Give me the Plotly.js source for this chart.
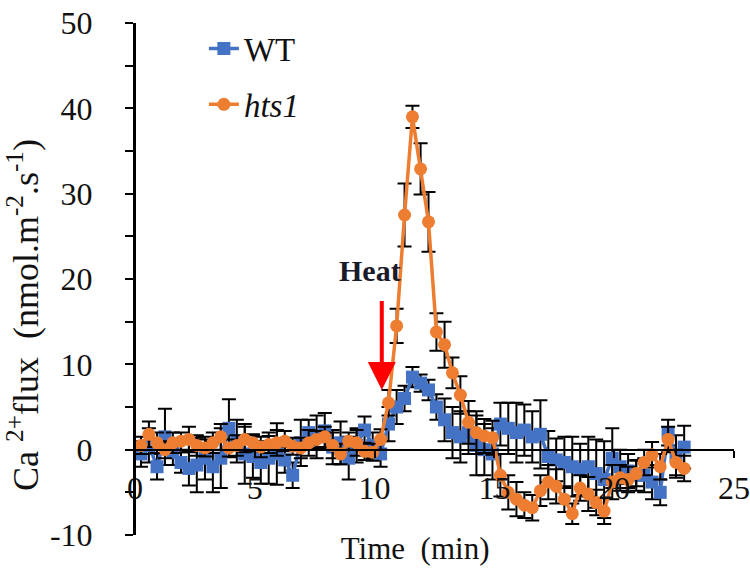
<!DOCTYPE html>
<html><head><meta charset="utf-8">
<script src="https://cdn.plot.ly/plotly-3.0.1.min.js"></script>
<style>html,body{margin:0;padding:0;background:#fff}#chart{width:750px;height:574px}</style>
</head><body><div id="chart"></div>
<script>
const timeMin = [0.25,0.58,0.92,1.25,1.58,1.92,2.25,2.58,2.92,3.25,3.58,3.92,4.25,4.58,4.92,5.25,5.58,5.92,6.25,6.58,6.92,7.25,7.58,7.92,8.25,8.58,8.92,9.25,9.58,9.92,10.25,10.58,10.92,11.25,11.58,11.92,12.25,12.58,12.92,13.25,13.58,13.92,14.25,14.58,14.92,15.25,15.58,15.92,16.25,16.58,16.92,17.25,17.58,17.92,18.25,18.58,18.92,19.25,19.58,19.92,20.25,20.58,20.92,21.25,21.58,21.92,22.25,22.58,22.92];
const wtFlux = [-0.5,0.5,-2.0,1.5,-0.3,-1.5,-2.2,-1.8,-1.0,-2.0,-1.0,2.5,1.0,-0.5,-0.8,-1.5,-1.0,-0.5,-1.2,-3.0,0.8,2.0,1.5,2.2,0.3,0.8,-1.0,0.5,2.3,0.5,-0.5,3.0,5.0,6.0,8.5,7.8,7.0,5.0,3.5,2.0,1.5,2.0,0.5,0.0,-0.5,3.0,2.5,2.0,2.3,1.5,1.8,-0.8,-1.2,-1.5,-2.0,-2.3,-2.0,-2.8,-3.5,-1.0,-2.0,-2.5,-3.0,-3.0,-3.8,-5.0,2.0,-0.8,0.3];
const wtErr = [1.5,2.0,1.5,3.3,1.5,1.2,2.0,3.2,2.5,3.0,3.5,3.4,2.5,3.5,2.5,2.5,3.0,3.6,1.5,1.5,2.7,1.5,2.5,2.1,2.0,2.5,2.5,2.0,1.6,1.5,1.5,2.0,2.0,1.5,1.2,1.0,1.2,1.5,2.5,3.0,3.0,2.5,3.5,3.0,3.0,2.5,3.0,3.5,3.0,3.0,4.0,3.0,2.5,3.0,3.5,3.0,3.5,4.0,4.5,3.5,2.0,2.0,1.8,2.0,2.0,1.5,1.5,2.5,2.5];
const hts1Flux = [0.5,1.8,0.8,0.0,0.8,1.0,1.2,0.5,0.2,0.8,1.5,0.2,0.5,1.2,0.8,0.3,0.6,0.8,1.0,0.4,0.2,0.8,1.2,1.5,0.5,-0.5,1.0,0.8,-0.2,-0.3,1.2,5.5,14.5,27.5,39.0,32.9,26.7,13.8,12.3,9.0,6.4,3.2,2.0,1.6,1.4,-3.0,-5.0,-5.8,-6.5,-6.8,-4.8,-3.8,-4.3,-5.8,-7.5,-4.5,-5.2,-6.2,-7.2,-3.8,-3.3,-3.5,-2.8,-1.5,-0.6,-2.0,1.2,-1.5,-2.2];
const hts1Err = [1.0,1.5,1.2,1.0,1.2,1.0,1.5,1.2,1.0,1.2,1.5,1.0,1.2,1.5,1.0,1.2,1.0,1.5,1.2,1.0,1.2,1.5,1.0,1.2,1.5,1.2,1.0,1.5,1.0,1.0,1.2,1.5,2.0,3.7,1.3,3.0,3.5,2.2,2.7,1.8,2.2,2.5,2.5,2.0,2.0,2.5,2.0,2.0,1.5,1.5,1.8,2.0,2.0,1.5,1.2,1.5,2.0,1.5,1.5,2.0,1.5,1.5,1.5,1.5,1.5,1.5,1.5,1.5,1.5];
const xTickVals = [0,5,10,15,20,25];
const xTickText = ['0','5','10','15','20','25'];
const yTickVals = [-10,0,10,20,30,40,50];
const yTickText = ['-10','0','10','20','30','40','50'];
const seriesNames = ['WT','<i>hts1</i>'];

const serif = 'Liberation Serif, Times New Roman, serif';
const ink = '#111111';
const nb = '\u00a0';
const zw = '\u200b';

const traces = [
  {
    x: timeMin, y: wtFlux, name: seriesNames[0], legendgroup: 'a',
    xaxis: 'x2', yaxis: 'y',
    type: 'scatter', mode: 'lines+markers',
    line: {color: '#4472C4', width: 3.5},
    marker: {symbol: 'square', size: 13, color: '#4472C4'},
    error_y: {type: 'data', array: wtErr, visible: true, color: '#000', thickness: 2, width: 7}
  },
  {
    x: timeMin, y: hts1Flux, name: seriesNames[1], legendgroup: 'b',
    xaxis: 'x2', yaxis: 'y',
    type: 'scatter', mode: 'lines+markers',
    line: {color: '#ED7D31', width: 3.5},
    marker: {symbol: 'circle', size: 13, color: '#ED7D31'},
    error_y: {type: 'data', array: hts1Err, visible: true, color: '#000', thickness: 2, width: 7}
  }
];

const layout = {
  width: 750, height: 574,
  margin: {l: 135, r: 16, t: 23, b: 39},
  paper_bgcolor: '#fff', plot_bgcolor: '#fff',
  showlegend: true,
  legend: {x: 0.115, y: 1.005, xanchor: 'left', yanchor: 'top', bgcolor: 'rgba(0,0,0,0)',
           font: {family: serif, size: 33, color: ink}, tracegroupgap: 10},
  xaxis: {
    range: [0, 25], anchor: 'y', side: 'bottom',
    showline: false, showticklabels: false, ticks: '',
    showgrid: false, zeroline: false, automargin: false,
    title: {text: 'Time' + nb + ' (min)' + nb.repeat(5) + zw, font: {family: serif, size: 31, color: ink}, standoff: 2}
  },
  xaxis2: {
    range: [0, 25], overlaying: 'x', anchor: 'free', position: 10/60, side: 'bottom',
    tickvals: xTickVals, ticktext: xTickText, ticklabeloverflow: 'allow',
    showline: true, linecolor: '#000', linewidth: 2,
    ticks: 'outside', ticklen: 7, tickwidth: 2, tickcolor: '#000',
    showgrid: false, zeroline: false, automargin: false,
    tickfont: {family: serif, size: 32, color: ink},
    ticklabelstandoff: 3
  },
  yaxis: {
    range: [-10, 50], anchor: 'x', side: 'left',
    tickvals: yTickVals, ticktext: yTickText, ticklabeloverflow: 'allow',
    showline: true, linecolor: '#000', linewidth: 2,
    ticks: 'outside', ticklen: 8, tickwidth: 2, tickcolor: '#000',
    minor: {dtick: 5, ticks: 'outside', ticklen: 8, tickwidth: 2, tickcolor: '#000', showgrid: false},
    showgrid: false, zeroline: false, automargin: false,
    tickfont: {family: serif, size: 32, color: ink},
    ticklabelstandoff: 26,
    title: {text: 'Ca <sup>2+</sup>flux' + nb + nb + '(nmol.m<sup>-2</sup>.s<sup>-1</sup>)' + nb.repeat(8) + zw, font: {family: serif, size: 36, color: ink}, standoff: 0}
  },
  shapes: [
    {type: 'line', xref: 'paper', yref: 'paper', x0: 0, x1: 0, y0: 0, y1: 1,
     line: {color: '#000000', width: 2}, layer: 'above'}
  ],
  annotations: [
    {x: 9.8, y: 21, xref: 'x', yref: 'y', text: '<b>Heat</b>', showarrow: false,
     font: {family: serif, size: 30, color: '#1a1a2a'}},
    {x: 10.3, y: 7.0, xref: 'x', yref: 'y', ax: 10.3, ay: 17.6, axref: 'x', ayref: 'y',
     text: '', showarrow: true, arrowcolor: '#FF0000', arrowwidth: 4, arrowhead: 2, arrowsize: 1.4}
  ]
};

Plotly.newPlot('chart', traces, layout, {staticPlot: true, displayModeBar: false});
</script>
</body></html>
